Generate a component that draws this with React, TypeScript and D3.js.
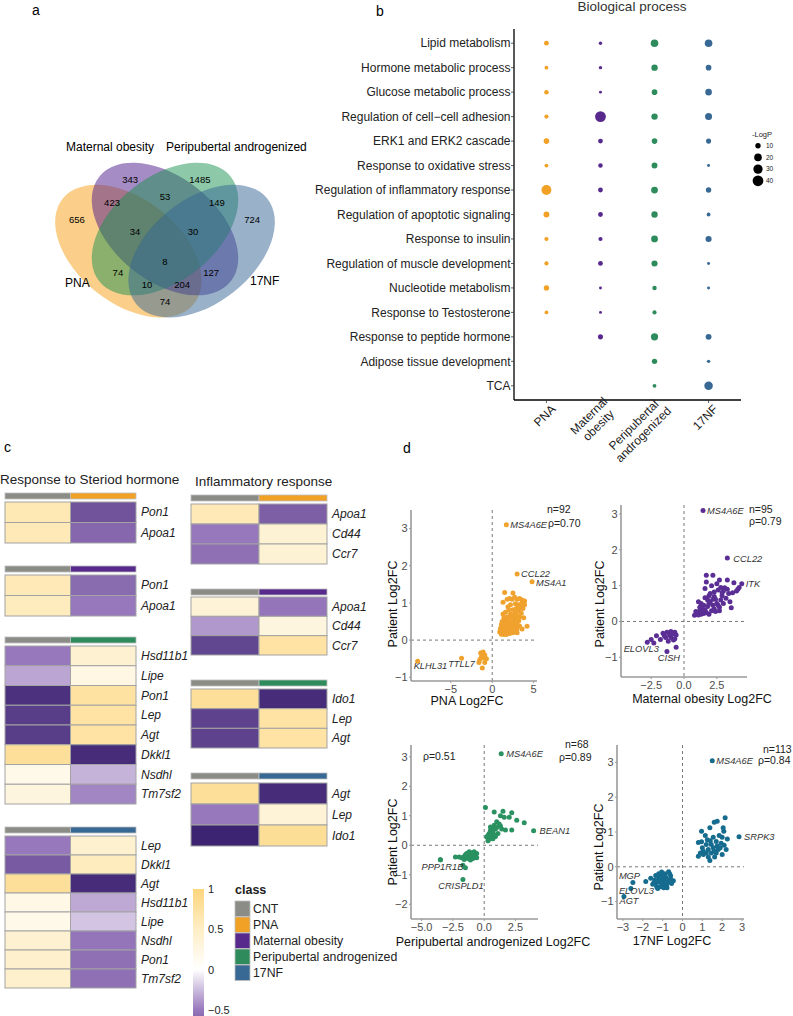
import React from "react";
import * as d3 from "d3";

const FONT = "'Liberation Sans', Arial, Helvetica, sans-serif";
const W = 793;
const H = 1016;

// ---------- shared ----------
const groups = ["PNA", "Maternal obesity", "Peripubertal androgenized", "17NF"];
const groupColors = ["#F2A127", "#58298C", "#2E8C5C", "#386995"];
const cntColor = "#8C8C86";
const classNames = ["CNT", ...groups];
const classColors = [cntColor, ...groupColors];

// ---------- panel a : venn ----------
const vennCounts = [656, 343, 1485, 724, 423, 53, 149, 34, 30, 8, 74, 127, 10, 204, 74];
const vennSpots = [
  [0.139, 0.611], [0.357, 0.792], [0.643, 0.792], [0.857, 0.611], [0.283, 0.688],
  [0.5, 0.715], [0.713, 0.688], [0.377, 0.557], [0.615, 0.557], [0.5, 0.421],
  [0.307, 0.371], [0.689, 0.371], [0.426, 0.317], [0.57, 0.317], [0.5, 0.24],
];
const vennCentres = [[0.35, 0.47], [0.5, 0.57], [0.5, 0.57], [0.65, 0.47]];
const vennTilt = [45, 45, -45, -45];
const vennFills = ["#F79F15", "#4B1989", "#1B9151", "#336593"];

// ---------- panel b : GO dot plot ----------
const bpTerms = [
  "Lipid metabolism", "Hormone metabolic process", "Glucose metabolic process",
  "Regulation of cell\u2212cell adhesion", "ERK1 and ERK2 cascade", "Response to oxidative stress",
  "Regulation of inflammatory response", "Regulation of apoptotic signaling", "Response to insulin",
  "Regulation of muscle development", "Nucleotide metabolism", "Response to Testosterone ",
  "Response to peptide hormone", "Adipose tissue development", "TCA",
];
const bpPNA = [8, 5, 7, 6, 11, 5, 34, 12, 6, 6, 10, 5, null, null, null];
const bpMaternal = [4, 4, 3, 40, 8, 7, 8, 8, 6, 8, 3, 3, 9, null, null];
const bpPeri = [20, 14, 11, 14, 11, 12, 16, 14, 16, 13, 7, 6, 18, 10, 5];
const bp17NF = [20, 11, 15, 17, 9, 3, 10, 5, 13, 3, 3, null, 12, 4, 25];
const sizeLegend = [10, 20, 30, 40];

// ---------- panel c : heatmaps (CNT, treated) ----------
const steroidPnaGenes = ["Pon1", "Apoa1"];
const steroidPna = [[0.62, -0.72], [0.6, -0.6]];
const steroidMatGenes = ["Pon1", "Apoa1"];
const steroidMat = [[0.6, -0.58], [0.55, -0.5]];
const steroidPeriGenes = ["Hsd11b1", "Lipe", "Pon1", "Lep", "Agt", "Dkkl1", "Nsdhl", "Tm7sf2"];
const steroidPeri = [[-0.5, 0.4], [-0.33, 0.25], [-0.92, 0.75], [-0.85, 0.72], [-0.85, 0.72], [0.8, -0.95], [0.18, -0.28], [0.28, -0.45]];
const steroid17Genes = ["Lep", "Dkkl1", "Agt", "Hsd11b1", "Lipe", "Nsdhl", "Pon1", "Tm7sf2"];
const steroid17 = [[-0.5, 0.42], [-0.68, 0.55], [0.8, -0.95], [0.22, -0.32], [0.18, -0.22], [0.4, -0.52], [0.45, -0.55], [0.45, -0.55]];
const inflamPnaGenes = ["Apoa1", "Cd44", "Ccr7"];
const inflamPna = [[0.6, -0.65], [-0.5, 0.38], [-0.55, 0.38]];
const inflamMatGenes = ["Apoa1", "Cd44", "Ccr7"];
const inflamMat = [[0.35, -0.52], [-0.38, 0.28], [-0.8, 0.72]];
const inflamPeriGenes = ["Ido1", "Lep", "Agt"];
const inflamPeri = [[0.8, -0.95], [-0.82, 0.72], [-0.82, 0.72]];
const inflam17Genes = ["Agt", "Lep", "Ido1"];
const inflam17 = [[0.8, -0.95], [-0.5, 0.35], [-1, 0.82]];
const colorbarTicks = [1, 0.5, 0, -0.5];

// ---------- panel d : scatter points [model log2FC, patient log2FC] ----------
const pnaPts = [
  [1.5, 1.28], [2.5, 1.27], [1.3, 1.02], [1.8, 1.1], [2.1, 1.12], [2.4, 1.1], [2.7, 1.15], [3.0, 1.1], [3.3, 1.12],
  [3.6, 1.08], [3.9, 1.05], [3.9, 0.95], [3.5, 0.98], [3.1, 0.95], [2.8, 0.98], [2.2, 0.95], [1.9, 0.9], [3.4, 0.88],
  [3.7, 0.85], [2.9, 0.85], [2.5, 0.82], [3.2, 0.78], [2.8, 0.72], [3.5, 0.72], [2.2, 0.7], [2.6, 0.68], [3.0, 0.65],
  [3.3, 0.62], [1.8, 0.62], [2.1, 0.6], [1.4, 0.6], [1.6, 0.55], [1.9, 0.55], [2.4, 0.58], [2.9, 0.55], [3.2, 0.52],
  [1.2, 0.5], [1.5, 0.48], [1.8, 0.45], [2.2, 0.47], [2.6, 0.45], [3.0, 0.42], [1.1, 0.42], [1.4, 0.4], [1.7, 0.38],
  [2.0, 0.38], [2.4, 0.36], [2.8, 0.35], [3.3, 0.38], [4.2, 0.37], [1.0, 0.32], [1.3, 0.3], [1.6, 0.3], [1.9, 0.28],
  [2.2, 0.28], [2.6, 0.27], [3.0, 0.3], [3.6, 0.3], [0.9, 0.22], [1.2, 0.22], [1.5, 0.2], [1.8, 0.2], [2.1, 0.18],
  [2.5, 0.2], [1.1, 0.16], [1.4, 0.15], [1.7, 0.15], [3.0, 0.2], [2.3, 0.22], [2.9, 0.6], [1.6, 0.75], [2.0, 0.82],
  [1.3, 0.7], [3.8, 0.6], [2.7, 0.52], [1.0, 0.26],
  [-1.4, -0.35], [-1.1, -0.32], [-0.9, -0.4], [-1.3, -0.45], [-1.0, -0.48], [-0.7, -0.5], [-1.5, -0.52],
  [-0.9, -0.6], [-1.6, -0.6], [-1.2, -0.75], [-1.0, -0.42],
];
const pnaGenes = ["MS4A6E", "CCL22", "MS4A1", "KLHL31", "TTLL7"];
const pnaGenePts = [[1.7, 3.1], [3.0, 1.78], [4.8, 1.57], [-9.0, -0.57], [-3.7, -0.49]];

const matPts = [
  [1.7, 1.29], [2.2, 1.29], [1.7, 1.1], [2.7, 1.16], [3.3, 1.16], [3.8, 1.08], [4.2, 0.95], [4.0, 0.85], [3.7, 0.8],
  [3.1, 0.94], [2.6, 0.88], [2.3, 0.82], [1.6, 0.92], [2.0, 0.78], [1.1, 0.55], [1.6, 0.66], [2.3, 0.7], [2.8, 0.6],
  [3.2, 0.65], [3.6, 0.38], [2.7, 0.4], [2.3, 0.35], [1.8, 0.42], [1.4, 0.38], [0.96, 0.2], [0.8, 0.17], [1.0, 0.25],
  [1.2, 0.3], [1.3, 0.2], [1.5, 0.22], [1.7, 0.25], [1.9, 0.2], [2.1, 0.3], [2.5, 0.5], [2.0, 0.55], [1.8, 0.6],
  [2.4, 0.62], [2.9, 0.72], [3.0, 0.5], [2.6, 0.45], [1.5, 0.45], [1.2, 0.4], [2.2, 0.45], [2.9, 0.8], [1.9, 0.72],
  [3.4, 0.78], [1.1, 0.18], [1.4, 0.28], [2.4, 0.28], [3.3, 0.9], [2.1, 1.0], [2.5, 1.05], [1.9, 0.5], [2.7, 0.3],
  [1.6, 0.32], [0.9, 0.28], [3.5, 0.55], [2.2, 0.62], [4.1, 0.9], [1.3, 0.5], [2.8, 0.95], [3.0, 0.85],
  [-2.5, -0.5], [-2.1, -0.4], [-1.6, -0.33], [-1.3, -0.3], [-1.0, -0.28], [-0.7, -0.3], [-1.4, -0.45],
  [-1.0, -0.45], [-0.7, -0.48], [-1.2, -0.55], [-0.8, -0.52], [-1.5, -0.4], [-0.6, -0.38], [-1.1, -0.38],
  [-0.9, -0.35], [-0.6, -0.72], [-2.3, -0.6], [-1.8, -0.5],
];
const matGenes = ["MS4A6E", "CCL22", "ITK", "ELOVL3", "CISH"];
const matGenePts = [[1.45, 3.1], [3.3, 1.77], [4.4, 1.05], [-2.8, -0.58], [-1.3, -0.84]];

const periPts = [
  [0.1, 1.28], [0.8, 1.13], [1.5, 1.15], [2.2, 1.1], [1.3, 1.0], [1.6, 0.95], [2.0, 0.95], [2.6, 0.85], [3.2, 0.76],
  [1.0, 0.8], [1.3, 0.65], [0.8, 0.68], [0.6, 0.6], [0.9, 0.55], [1.4, 0.55], [1.7, 0.52], [2.2, 0.52], [0.5, 0.5],
  [0.7, 0.45], [1.1, 0.4], [0.4, 0.4], [0.3, 0.33], [0.6, 0.3], [0.9, 0.3], [0.2, 0.28], [0.4, 0.2], [0.7, 0.22],
  [1.0, 0.6], [0.5, 0.62], [1.2, 0.72], [0.3, 0.15], [0.8, 0.35],
  [-3.5, -0.49], [-2.3, -0.4], [-2.0, -0.4], [-1.6, -0.38], [-1.3, -0.3], [-1.0, -0.25], [-0.8, -0.22],
  [-0.7, -0.34], [-1.2, -0.4], [-1.6, -0.48], [-1.3, -0.45], [-0.9, -0.45], [-0.6, -0.28], [-1.0, -0.35],
  [-1.5, -0.32], [-0.8, -0.4], [-1.1, -0.5], [-1.8, -0.42], [-0.6, -0.42], [-1.7, -0.68], [-1.5, -0.76],
  [-1.4, -0.28], [-0.9, -0.3], [-1.2, -0.22],
];
const periGenes = ["MS4A6E", "BEAN1", "PPP1R1B", "CRISPLD1"];
const periGenePts = [[1.36, 3.1], [3.95, 0.49], [-3.5, -0.49], [-1.7, -1.16]];

const nfPts = [
  [0.96, 1.02], [0.96, 0.72], [1.38, 1.12], [1.6, 1.28], [1.75, 1.31], [2.15, 1.41], [2.05, 1.12], [2.08, 1.02],
  [1.55, 0.85], [1.15, 0.9], [0.8, 0.7], [1.2, 0.64], [1.45, 0.64], [1.7, 0.73], [1.95, 0.68], [2.26, 0.8],
  [1.8, 0.5], [0.8, 0.3], [1.05, 0.35], [1.3, 0.28], [1.62, 0.28], [2.0, 0.35], [1.38, 0.18], [1.05, 0.45],
  [1.3, 0.5], [1.55, 0.55], [1.75, 0.6], [1.9, 0.55], [2.1, 0.62], [1.45, 0.4], [1.2, 0.4], [1.6, 0.45],
  [2.0, 0.85], [1.85, 0.9], [1.4, 0.75], [1.0, 0.55], [1.7, 0.4], [1.25, 0.78], [0.9, 0.4], [2.2, 0.5],
  [-1.6, -0.33], [-1.46, -0.47], [-1.3, -0.57], [-1.2, -0.32], [-1.04, -0.23], [-0.7, -0.14], [-0.6, -0.26],
  [-0.46, -0.4], [-0.8, -0.52], [-1.12, -0.57], [-0.95, -0.38], [-1.3, -0.45], [-1.1, -0.45], [-0.85, -0.3],
  [-0.7, -0.38], [-1.0, -0.3], [-1.2, -0.2], [-0.9, -0.2], [-0.75, -0.45], [-0.6, -0.35], [-1.4, -0.38],
  [-1.0, -0.5], [-1.15, -0.38], [-0.85, -0.45], [-0.65, -0.2], [-1.35, -0.25], [-0.95, -0.6], [-1.25, -0.62],
  [-0.78, -0.6], [-1.5, -0.5], [-1.05, -0.15], [-0.55, -0.48], [-1.85, -0.42], [-0.9, -0.28], [-1.1, -0.3],
];
const nfGenes = ["MS4A6E", "SRPK3", "MGP", "ELOVL3", "AGT"];
const nfGenePts = [[1.5, 3.05], [2.85, 0.86], [-2.5, -0.45], [-2.6, -0.62], [-2.95, -0.85]];

// ---------- helpers ----------
let measureCtx: CanvasRenderingContext2D | null = null;
function textWidth(s: string, size: number) {
  if (!measureCtx) measureCtx = document.createElement("canvas").getContext("2d");
  if (!measureCtx) return s.length * size * 0.55;
  measureCtx.font = `${size}px 'Liberation Sans', Arial`;
  return measureCtx.measureText(s).width;
}

const heatColor = d3
  .scaleLinear<string>()
  .domain([-1, -0.5, 0, 0.5, 1])
  .range(["#3D2472", "#9878BC", "#FFFFFF", "#FEEEC6", "#FDD57C"])
  .interpolate(d3.interpolateRgb);

// ---------- panel a ----------
function Venn() {
  const xV = d3.scaleLinear().domain([0, 1]).range([43, 287]);
  const yV = d3.scaleLinear().domain([0, 1]).range([355, 134]);
  const ux = xV(1) - xV(0);
  const uy = yV(0) - yV(1);
  return (
    <g>
      {vennCentres.map(([cx, cy], i) => (
        <ellipse
          key={i}
          rx={0.36}
          ry={0.225}
          transform={`translate(${xV(cx)},${yV(cy)}) scale(${ux},${uy}) rotate(${vennTilt[i]})`}
          fill={vennFills[i]}
          fillOpacity={0.5}
        />
      ))}
      {vennCounts.map((n, i) => (
        <text key={i} x={xV(vennSpots[i][0])} y={yV(vennSpots[i][1])} dy="0.35em" textAnchor="middle" fontSize={9.5}>
          {n}
        </text>
      ))}
      <text x={110} y={151} textAnchor="middle" fontSize={12}>{groups[1]}</text>
      <text x={166} y={151} fontSize={12}>{groups[2]}</text>
      <text x={65} y={287} fontSize={12}>{groups[0]}</text>
      <text x={250} y={285} fontSize={12}>{groups[3]}</text>
    </g>
  );
}

// ---------- panel b ----------
function DotPlot() {
  const x = d3.scalePoint<string>().domain(groups).range([514, 741]).padding(0.6);
  const y = d3.scalePoint<string>().domain(bpTerms).range([29, 400]).padding(0.58);
  const r = d3.scaleSqrt().domain([0, 45]).range([0, 5.7]);
  const series = [bpPNA, bpMaternal, bpPeri, bp17NF];
  const x0 = 514, x1 = 741, y0 = 29, y1 = 400;
  const fs = 12;
  return (
    <g>
      <text x={632} y={11} textAnchor="middle" fontSize={13.5} fill="#333">Biological process</text>
      {series.map((vals, gi) =>
        vals.map((v, ti) =>
          v == null ? null : (
            <circle key={`${gi}-${ti}`} cx={x(groups[gi])} cy={y(bpTerms[ti])} r={r(v)} fill={groupColors[gi]} />
          )
        )
      )}
      <line x1={x0} x2={x0} y1={y0} y2={y1} stroke="#000" strokeWidth={1.3} />
      <line x1={x0} x2={x1} y1={y1} y2={y1} stroke="#000" strokeWidth={1.3} />
      {bpTerms.map((t) => (
        <g key={t}>
          <line x1={x0 - 3} x2={x0} y1={y(t)} y2={y(t)} stroke="#333" strokeWidth={0.8} />
          <text x={x0 - 3.5} y={y(t)} dy="0.35em" textAnchor="end" fontSize={fs} fill="#222">{t}</text>
        </g>
      ))}
      {groups.map((g) => {
        const gx = x(g)!;
        const lines = g.includes(" ") ? [g.slice(0, g.indexOf(" ")), g.slice(g.indexOf(" ") + 1)] : [g];
        const maxW = d3.max(lines, (l) => textWidth(l, fs)) ?? 0;
        return (
          <g key={g}>
            <line x1={gx} x2={gx} y1={y1} y2={y1 + 3} stroke="#333" strokeWidth={0.8} />
            <g transform={`translate(${gx},${y1}) rotate(-45)`}>
              {lines.length === 1 ? (
                <text x={0} y={14} textAnchor="end" fontSize={fs} fill="#222">{lines[0]}</text>
              ) : (
                lines.map((l, li) => (
                  <text key={l} x={-maxW / 2 + 4} y={7 + li * 13.5} textAnchor="middle" fontSize={fs} fill="#222">{l}</text>
                ))
              )}
            </g>
          </g>
        );
      })}
      <text x={752} y={137} fontSize={7.5} fill="#222">-LogP</text>
      {sizeLegend.map((v, i) => (
        <g key={v}>
          <circle cx={758} cy={145.7 + i * 11.7} r={r(v)} fill="#000" />
          <text x={766} y={145.7 + i * 11.7} dy="0.35em" fontSize={6.5} fill="#222">{v}</text>
        </g>
      ))}
    </g>
  );
}

// ---------- panel c ----------
function HeatBlock({
  x0, width, barTop, cellTop, cellBottom, groupIdx, genes, values,
}: {
  x0: number; width: number; barTop: number; cellTop: number; cellBottom: number;
  groupIdx: number; genes: string[]; values: number[][];
}) {
  const col = d3.scaleBand<number>().domain([0, 1]).range([x0, x0 + width]);
  const row = d3.scaleBand<string>().domain(genes).range([cellTop, cellBottom]);
  const border = "#A3A3A3";
  return (
    <g>
      {[cntColor, groupColors[groupIdx]].map((c, i) => (
        <rect key={i} x={col(i)} y={barTop} width={col.bandwidth()} height={6} fill={c} stroke="#BDBDBD" strokeWidth={0.8} />
      ))}
      {genes.map((g, ri) => (
        <g key={g + ri}>
          {values[ri].map((v, ci) => (
            <rect key={ci} x={col(ci)} y={row(g)} width={col.bandwidth()} height={row.bandwidth()} fill={heatColor(v)} stroke={border} strokeWidth={1} />
          ))}
          <text x={x0 + width + 5} y={row(g)! + row.bandwidth() / 2} dy="0.35em" fontSize={12} fontStyle="italic" fill="#222">{g}</text>
        </g>
      ))}
    </g>
  );
}

function Heatmaps() {
  const left = [
    { genes: steroidPnaGenes, values: steroidPna, lay: [493, 502, 543] },
    { genes: steroidMatGenes, values: steroidMat, lay: [566, 575, 616] },
    { genes: steroidPeriGenes, values: steroidPeri, lay: [637, 646, 804] },
    { genes: steroid17Genes, values: steroid17, lay: [827, 836, 988] },
  ];
  const right = [
    { genes: inflamPnaGenes, values: inflamPna, lay: [495, 504, 564] },
    { genes: inflamMatGenes, values: inflamMat, lay: [589, 597, 655] },
    { genes: inflamPeriGenes, values: inflamPeri, lay: [680, 689, 748] },
    { genes: inflam17Genes, values: inflam17, lay: [773, 783, 846] },
  ];
  const cb = d3.scaleLinear().domain([1, -0.5]).range([889, 1010]);
  return (
    <g>
      <text x={0} y={484} fontSize={13.5} fill="#222">Response to Steriod hormone</text>
      <text x={195} y={486} fontSize={13.5} fill="#222">Inflammatory response</text>
      {left.map((b, i) => (
        <HeatBlock key={"l" + i} x0={5} width={131} barTop={b.lay[0]} cellTop={b.lay[1]} cellBottom={b.lay[2]} groupIdx={i} genes={b.genes} values={b.values} />
      ))}
      {right.map((b, i) => (
        <HeatBlock key={"r" + i} x0={191} width={136} barTop={b.lay[0]} cellTop={b.lay[1]} cellBottom={b.lay[2]} groupIdx={i} genes={b.genes} values={b.values} />
      ))}
      <defs>
        <linearGradient id="cbar" x1="0" x2="0" y1="0" y2="1">
          {[1, 0.5, 0, -0.5, -1].map((v) => (
            <stop key={v} offset={`${((1 - v) / 2) * 100}%`} stopColor={heatColor(v)} />
          ))}
        </linearGradient>
      </defs>
      <rect x={193} y={cb(1)} width={11} height={cb(-1) - cb(1)} fill="url(#cbar)" />
      {colorbarTicks.map((t) => (
        <text key={t} x={208} y={cb(t)} dy="0.35em" fontSize={11} fill="#222">
          {t < 0 ? `\u2212${Math.abs(t)}` : t}
        </text>
      ))}
      <text x={235} y={894} fontSize={12.5} fontWeight="bold" fill="#222">class</text>
      {classNames.map((c, i) => (
        <g key={c}>
          <rect x={235} y={901 + i * 16} width={15} height={15.5} fill={classColors[i]} stroke="#BDBDBD" strokeWidth={0.8} />
          <text x={253} y={901 + i * 16 + 8} dy="0.35em" fontSize={12.3} fill="#222">{c}</text>
        </g>
      ))}
    </g>
  );
}

// ---------- panel d ----------
type Frame = {
  left: number; right: number; top: number; bottom: number;
  xd: [number, number]; yd: [number, number]; xt: number[]; yt: number[]; xfmt: string;
  xTitle: string; xTitlePos: [number, number]; yTitlePos: [number, number];
};

function Scatter({
  f, pts, genes, genePts, geneOff, color, stats,
}: {
  f: Frame; pts: number[][]; genes: string[]; genePts: number[][];
  geneOff: [number, number, string][]; color: string; stats: [string, number, number][];
}) {
  const x = d3.scaleLinear().domain(f.xd).range([f.left, f.right]);
  const y = d3.scaleLinear().domain(f.yd).range([f.bottom, f.top]);
  const fmt = d3.format(f.xfmt);
  const axisC = "#9A9A9A";
  return (
    <g>
      <line x1={x(0)} x2={x(0)} y1={f.top} y2={f.bottom} stroke="#555" strokeWidth={0.8} strokeDasharray="3,3" />
      <line x1={f.left} x2={f.right} y1={y(0)} y2={y(0)} stroke="#555" strokeWidth={0.8} strokeDasharray="3,3" />
      {[...pts, ...genePts].map((p, i) => (
        <circle key={i} cx={x(p[0])} cy={y(p[1])} r={2.5} fill={color} />
      ))}
      {genes.map((g, i) => (
        <text
          key={g}
          x={x(genePts[i][0]) + geneOff[i][0]}
          y={y(genePts[i][1]) + geneOff[i][1]}
          textAnchor={geneOff[i][2] as any}
          fontSize={9.3}
          fontStyle="italic"
          fill="#333"
        >
          {g}
        </text>
      ))}
      <line x1={f.left} x2={f.left} y1={f.top} y2={f.bottom} stroke={axisC} strokeWidth={1.6} />
      <line x1={f.left} x2={f.right} y1={f.bottom} y2={f.bottom} stroke={axisC} strokeWidth={1.6} />
      {f.yt.map((t) => (
        <g key={"y" + t}>
          <line x1={f.left - 2} x2={f.left} y1={y(t)} y2={y(t)} stroke={axisC} />
          <text x={f.left - 3.5} y={y(t)} dy="0.35em" textAnchor="end" fontSize={11} fill="#4D4D4D">
            {t < 0 ? `\u2212${Math.abs(t)}` : t}
          </text>
        </g>
      ))}
      {f.xt.map((t) => (
        <g key={"x" + t}>
          <line x1={x(t)} x2={x(t)} y1={f.bottom} y2={f.bottom + 2} stroke={axisC} />
          <text x={x(t)} y={f.bottom + 12} textAnchor="middle" fontSize={11} fill="#4D4D4D">
            {fmt(t).replace("-", "\u2212")}
          </text>
        </g>
      ))}
      <text x={f.xTitlePos[0]} y={f.xTitlePos[1]} textAnchor="middle" fontSize={12.5} fill="#111">{f.xTitle}</text>
      <text
        transform={`translate(${f.yTitlePos[0]},${f.yTitlePos[1]}) rotate(-90)`}
        textAnchor="middle"
        fontSize={12.5}
        fill="#111"
      >
        Patient Log2FC
      </text>
      {stats.map(([s, sx, sy]) => (
        <text key={s} x={sx} y={sy} fontSize={10.5} fill="#222">{s}</text>
      ))}
    </g>
  );
}

const frames: Frame[] = [
  { left: 411, right: 537, top: 510, bottom: 681, xd: [-9.8, 5.4], yd: [-1.1, 3.5], xt: [-5, 0, 5], yt: [-1, 0, 1, 2, 3], xfmt: "d",
    xTitle: "PNA Log2FC", xTitlePos: [467, 705], yTitlePos: [397, 604] },
  { left: 621, right: 747, top: 505, bottom: 677, xd: [-4.8, 4.8], yd: [-1.55, 3.25], xt: [-2.5, 0, 2.5], yt: [-1, 0, 1, 2, 3], xfmt: ".1f",
    xTitle: "Maternal obesity Log2FC", xTitlePos: [702, 703], yTitlePos: [604, 604] },
  { left: 411, right: 538, top: 745, bottom: 919, xd: [-5.85, 4.3], yd: [-2.5, 3.4], xt: [-5, -2.5, 0, 2.5], yt: [-2, -1, 0, 1, 2, 3], xfmt: ".1f",
    xTitle: "Peripubertal androgenized Log2FC", xTitlePos: [493, 946], yTitlePos: [397, 842] },
  { left: 617, right: 744, top: 745, bottom: 919, xd: [-3.3, 3.1], yd: [-1.5, 3.5], xt: [-3, -2, -1, 0, 1, 2, 3], yt: [-1, 0, 1, 2, 3], xfmt: "d",
    xTitle: "17NF Log2FC", xTitlePos: [672, 945], yTitlePos: [603, 847] },
];

export default function App() {
  return (
    <svg
      width={W}
      height={H}
      viewBox={`0 0 ${W} ${H}`}
      style={{ position: "absolute", left: 0, top: 0, background: "#fff" }}
      fontFamily={FONT}
    >
      <rect width={W} height={H} fill="#fff" />
      <text x={32} y={15} fontSize={14}>a</text>
      <text x={376} y={16} fontSize={14}>b</text>
      <text x={4} y={452} fontSize={14}>c</text>
      <text x={403} y={453} fontSize={14}>d</text>
      <Venn />
      <DotPlot />
      <Heatmaps />
      <Scatter
        f={frames[0]} pts={pnaPts} genes={pnaGenes} genePts={pnaGenePts} color="#F0A22E"
        geneOff={[[4, 3.5, "start"], [4, 3.5, "start"], [4, 4, "start"], [-4, 8, "start"], [0, 9, "middle"]]}
        stats={[["n=92", 547, 513], ["\u03c1=0.70", 548, 527]]}
      />
      <Scatter
        f={frames[1]} pts={matPts} genes={matGenes} genePts={matGenePts} color="#5A2E94"
        geneOff={[[4, 3.5, "start"], [6, 3.5, "start"], [4, 3.5, "start"], [-6, 10, "middle"], [2, 9, "middle"]]}
        stats={[["n=95", 749, 513], ["\u03c1=0.79", 749, 525]]}
      />
      <Scatter
        f={frames[2]} pts={periPts} genes={periGenes} genePts={periGenePts} color="#2A9160"
        geneOff={[[5, 3.5, "start"], [6, 3.5, "start"], [2, 10, "middle"], [-2, 10, "middle"]]}
        stats={[["n=68", 565, 748], ["\u03c1=0.89", 559, 761], ["\u03c1=0.51", 423, 760]]}
      />
      <Scatter
        f={frames[3]} pts={nfPts} genes={nfGenes} genePts={nfGenePts} color="#166C8F"
        geneOff={[[4, 3.5, "start"], [5, 3.5, "start"], [-14, -3, "start"], [-12, 6, "start"], [-4.5, 8, "start"]]}
        stats={[["n=113", 763, 753], ["\u03c1=0.84", 758, 764]]}
      />
    </svg>
  );
}
